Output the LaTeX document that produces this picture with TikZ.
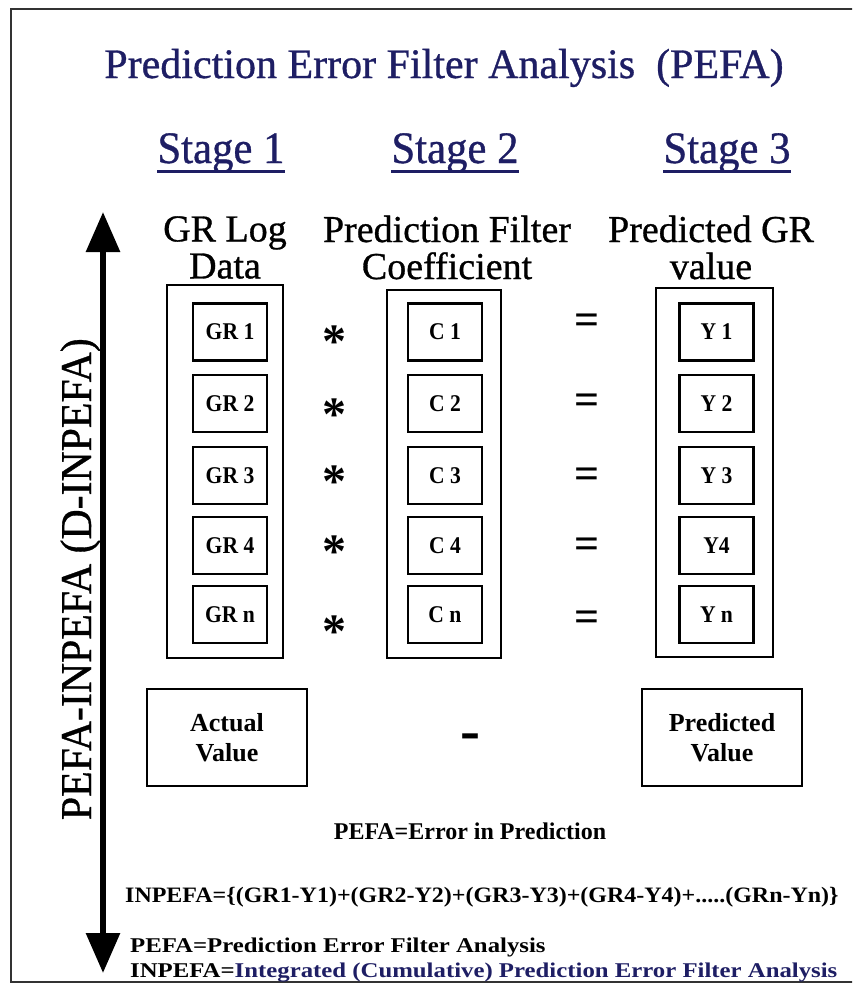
\documentclass[tikz,border=0pt]{standalone}
\usepackage{fontspec}
\setmainfont{Liberation Serif}
\newfontfamily\headfont{Liberation Serif}[FakeBold=0.8]
\usetikzlibrary{arrows.meta,calc}
\definecolor{pefanavy}{RGB}{30,30,100}
\newcommand{\hs}[2]{\scalebox{#1}[1]{#2}}
\tikzset{
  cellbox/.style={draw, line width=2.4pt, minimum width=74pt, minimum height=57pt, inner sep=0pt, font=\fontsize{24}{28}\selectfont\bfseries},
  colbox/.style={draw, line width=2.4pt, inner sep=0pt},
  valbox/.style={draw, line width=2.8pt, minimum width=160pt, minimum height=97pt, inner sep=0pt, align=center, font=\fontsize{26}{30}\selectfont\bfseries},
  starsign/.style={anchor=base, inner sep=0pt, font=\fontsize{48}{50}\selectfont\bfseries},
  eqsign/.style={anchor=base, inner sep=0pt, font=\fontsize{44}{44}\selectfont\bfseries},
  stagehead/.style={anchor=base, inner sep=0pt, text=pefanavy, font=\headfont\fontsize{45}{54}\selectfont},
  colhead/.style={align=center, inner sep=0pt, font=\headfont\fontsize{38}{37}\selectfont},
  note/.style={anchor=base west, inner sep=0pt, font=\fontsize{21}{26}\selectfont\bfseries},
}

\begin{document}
\begin{tikzpicture}[x=1pt, y=-1pt]
	%%%%% START %%%%%
	\useasboundingbox[fill=white] (0,0) rectangle (852,983);
	\clip (0,0) rectangle (852,983);
	\draw[line width=2.5pt, color=black!80] (870,9) -- (11,9) -- (11,982.5) -- (870,982.5);

	\node[anchor=base, inner sep=0pt, text=pefanavy, font=\headfont\fontsize{42}{50}\selectfont] (title) at (444,78) {Prediction Error Filter Analysis~~(PEFA)};

	\node[stagehead] (st1) at (221,163) {\hs{0.95}{Stage 1}};
	\node[stagehead] (st2) at (455,163) {\hs{0.95}{Stage 2}};
	\node[stagehead] (st3) at (727,163) {\hs{0.95}{Stage 3}};
	\draw[pefanavy, line width=3pt] ($(st1.base west)+(0,8)$) -- ($(st1.base east)+(0,8)$);
	\draw[pefanavy, line width=3pt] ($(st2.base west)+(0,8)$) -- ($(st2.base east)+(0,8)$);
	\draw[pefanavy, line width=3pt] ($(st3.base west)+(0,8)$) -- ($(st3.base east)+(0,8)$);

	\node[colhead] (grhead) at (225,247.5) {GR Log\\Data};
	\node[colhead] (chead) at (447,247.5) {Prediction Filter\\Coefficient};
	\node[colhead] (yhead) at (711,247.5) {Predicted GR\\value};

	% columns
	\node[colbox, minimum width=116pt, minimum height=373pt] (grcol) at (225,471.5) {};
	\node[colbox, minimum width=114pt, minimum height=368pt] (ccol) at (444,474) {};
	\node[colbox, minimum width=117pt, minimum height=369pt] (ycol) at (714.5,472.5) {};

	\node[cellbox] (gr1) at (230,332) {\hs{0.9}{GR 1}};
	\node[cellbox] (gr2) at (230,403.5) {\hs{0.9}{GR 2}};
	\node[cellbox] (gr3) at (230,475.5) {\hs{0.9}{GR 3}};
	\node[cellbox] (gr4) at (230,545.5) {\hs{0.9}{GR 4}};
	\node[cellbox] (grn) at (230,614.5) {\hs{0.9}{GR n}};

	\node[cellbox] (c1) at (445,332) {\hs{0.9}{C 1}};
	\node[cellbox] (c2) at (445,403.5) {\hs{0.9}{C 2}};
	\node[cellbox] (c3) at (445,475.5) {\hs{0.9}{C 3}};
	\node[cellbox] (c4) at (445,545.5) {\hs{0.9}{C 4}};
	\node[cellbox] (cn) at (445,614.5) {\hs{0.9}{C n}};

	\node[cellbox] (y1) at (716.5,332) {\hs{0.9}{Y 1}};
	\node[cellbox] (y2) at (716.5,403.5) {\hs{0.9}{Y 2}};
	\node[cellbox] (y3) at (716.5,475.5) {\hs{0.9}{Y 3}};
	\node[cellbox] (y4) at (716.5,545.5) {\hs{0.9}{Y4}};
	\node[cellbox] (yn) at (716.5,614.5) {\hs{0.9}{Y n}};

	% operators
	\node[starsign] (mul1) at (334,357) {*};
	\node[starsign] (mul2) at (334,430) {*};
	\node[starsign] (mul3) at (334,497) {*};
	\node[starsign] (mul4) at (334,567) {*};
	\node[starsign] (muln) at (334,647) {*};

	\node[eqsign] (eq1) at (587,334) {=};
	\node[eqsign] (eq2) at (587,414) {=};
	\node[eqsign] (eq3) at (587,488) {=};
	\node[eqsign] (eq4) at (587,558) {=};
	\node[eqsign] (eqn) at (587,631) {=};

	\node[valbox] (actual) at (227,737.5) {Actual\\Value};
	\node[valbox] (predicted) at (722,737.5) {Predicted\\Value};
	\node[anchor=base, inner sep=0pt, font=\fontsize{60}{60}\selectfont\bfseries] (minus) at (470,750) {-};

	\node[anchor=base, inner sep=0pt, font=\fontsize{24}{28}\selectfont\bfseries] (errdef) at (470,839) {PEFA=Error in Prediction};

	\node[note, font=\fontsize{22}{26}\selectfont\bfseries] (sumdef) at (125,902) {\hs{1.09}{INPEFA=\{(GR1-Y1)+(GR2-Y2)+(GR3-Y3)+(GR4-Y4)+.....(GRn-Yn)\}}};
	\node[note] (pefadef) at (130,952) {\hs{1.18}{PEFA=Prediction Error Filter Analysis}};
	\node[note] (inpefadef) at (130,977) {\hs{1.18}{INPEFA=\textcolor{pefanavy}{Integrated (Cumulative) Prediction Error Filter Analysis}}};

	% side axis
	\coordinate (axtop) at (103,212);
	\coordinate (axbot) at (103,973);
	\draw[line width=6pt, {Triangle[length=40pt,width=33pt]}-{Triangle[length=40pt,width=33pt]}] (axtop) -- (axbot);
	\node[rotate=90, anchor=base east, inner sep=0pt, font=\headfont\fontsize{44}{50}\selectfont] (sidelbl) at (91,338) {\hs{0.95}{PEFA-INPEFA (D-INPEFA)}};
	%%%%% END %%%%%
\end{tikzpicture}
\end{document}
